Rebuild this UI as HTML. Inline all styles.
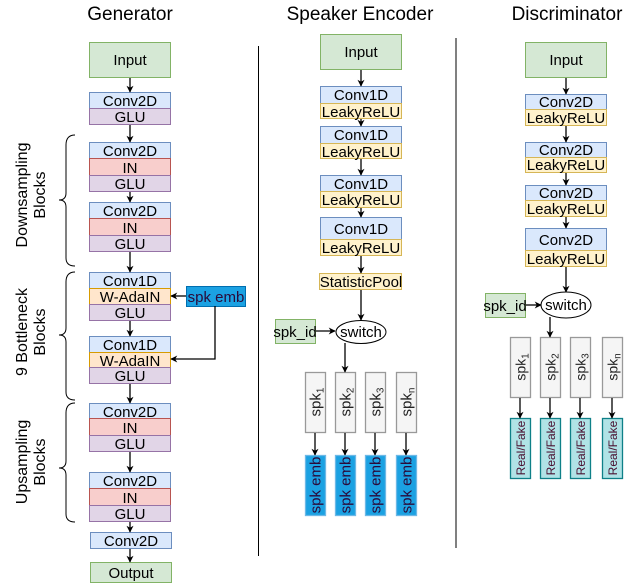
<!DOCTYPE html>
<html><head><meta charset="utf-8"><style>
html,body{margin:0;padding:0;background:#fff;}
svg{display:block;font-family:"Liberation Sans",Arial,sans-serif;}
</style></head><body>
<svg width="632" height="583" viewBox="0 0 632 583" xmlns="http://www.w3.org/2000/svg">
<defs>
<marker id="a" viewBox="0 0 10 10" refX="9" refY="5" markerWidth="7" markerHeight="7" orient="auto" markerUnits="userSpaceOnUse"><path d="M0,0 L10,5 L0,10 L3,5 z" fill="#000"/></marker>
</defs>
<g font-size="19" text-anchor="middle" fill="#000">
<text x="130" y="20">Generator</text>
<text x="360" y="20">Speaker Encoder</text>
<text x="567" y="20">Discriminator</text>
</g>
<line x1="258.5" y1="46" x2="258.5" y2="556" stroke="#000" stroke-width="1"/>
<line x1="456" y1="38" x2="456" y2="548" stroke="#000" stroke-width="1"/>

<g font-size="15" text-anchor="middle" stroke-width="1">
<!-- Generator -->
<rect x="89.5" y="42.5" width="81" height="35" fill="#d5e8d4" stroke="#82b366"/><text x="130" y="65">Input</text>
<rect x="89.5" y="92.5" width="81" height="16" fill="#dae8fc" stroke="#6c8ebf"/><text x="130" y="106">Conv2D</text>
<rect x="89.5" y="108.5" width="81" height="16" fill="#e1d5e7" stroke="#9673a6"/><text x="130" y="122">GLU</text>

<rect x="89.5" y="142.5" width="81" height="16" fill="#dae8fc" stroke="#6c8ebf"/><text x="130" y="156">Conv2D</text>
<rect x="89.5" y="158.5" width="81" height="17" fill="#f8cecc" stroke="#b85450"/><text x="130" y="173">IN</text>
<rect x="89.5" y="175.5" width="81" height="16" fill="#e1d5e7" stroke="#9673a6"/><text x="130" y="189">GLU</text>
<rect x="89.5" y="202.5" width="81" height="16" fill="#dae8fc" stroke="#6c8ebf"/><text x="130" y="216">Conv2D</text>
<rect x="89.5" y="218.5" width="81" height="17" fill="#f8cecc" stroke="#b85450"/><text x="130" y="233">IN</text>
<rect x="89.5" y="235.5" width="81" height="16" fill="#e1d5e7" stroke="#9673a6"/><text x="130" y="249">GLU</text>

<rect x="89.5" y="272.5" width="81" height="16" fill="#dae8fc" stroke="#6c8ebf"/><text x="130" y="286">Conv1D</text>
<rect x="89.5" y="288.5" width="81" height="16" fill="#ffe6cc" stroke="#d79b00"/><text x="130" y="302">W-AdaIN</text>
<rect x="89.5" y="304.5" width="81" height="16" fill="#e1d5e7" stroke="#9673a6"/><text x="130" y="318">GLU</text>
<rect x="89.5" y="336.5" width="81" height="16" fill="#dae8fc" stroke="#6c8ebf"/><text x="130" y="350">Conv1D</text>
<rect x="89.5" y="352.5" width="81" height="15" fill="#ffe6cc" stroke="#d79b00"/><text x="130" y="366">W-AdaIN</text>
<rect x="89.5" y="367.5" width="81" height="16" fill="#e1d5e7" stroke="#9673a6"/><text x="130" y="381">GLU</text>

<rect x="89.5" y="403.5" width="81" height="15" fill="#dae8fc" stroke="#6c8ebf"/><text x="130" y="417">Conv2D</text>
<rect x="89.5" y="418.5" width="81" height="17" fill="#f8cecc" stroke="#b85450"/><text x="130" y="433">IN</text>
<rect x="89.5" y="435.5" width="81" height="16" fill="#e1d5e7" stroke="#9673a6"/><text x="130" y="449">GLU</text>
<rect x="89.5" y="472.5" width="81" height="16" fill="#dae8fc" stroke="#6c8ebf"/><text x="130" y="486">Conv2D</text>
<rect x="89.5" y="488.5" width="81" height="17" fill="#f8cecc" stroke="#b85450"/><text x="130" y="503">IN</text>
<rect x="89.5" y="505.5" width="81" height="16" fill="#e1d5e7" stroke="#9673a6"/><text x="130" y="519">GLU</text>
<rect x="90.5" y="532.5" width="81" height="16" fill="#dae8fc" stroke="#6c8ebf"/><text x="131" y="546">Conv2D</text>
<rect x="90.5" y="562.5" width="81" height="20" fill="#d5e8d4" stroke="#82b366"/><text x="131" y="578">Output</text>

<rect x="186.5" y="286.5" width="59" height="20" fill="#1ba1e2" stroke="#006eaf"/><text x="216" y="302" fill="#2a0a3a">spk emb</text>
</g>
<g stroke="#000" stroke-width="1.3" fill="none">
<line x1="130" y1="78" x2="130" y2="92" marker-end="url(#a)"/>
<line x1="130" y1="125" x2="130" y2="142" marker-end="url(#a)"/>
<line x1="130" y1="192" x2="130" y2="202" marker-end="url(#a)"/>
<line x1="130" y1="252" x2="130" y2="272" marker-end="url(#a)"/>
<line x1="130" y1="321" x2="130" y2="336" marker-end="url(#a)"/>
<line x1="130" y1="384" x2="130" y2="403" marker-end="url(#a)"/>
<line x1="130" y1="452" x2="130" y2="472" marker-end="url(#a)"/>
<line x1="130" y1="522" x2="130" y2="532" marker-end="url(#a)"/>
<line x1="130" y1="549" x2="130" y2="562" marker-end="url(#a)"/>
<line x1="186" y1="296" x2="171" y2="296" marker-end="url(#a)"/>
<polyline points="215,306 215,359 171,359" marker-end="url(#a)"/>
<path d="M75,145 Q66,145 66,155 L66,203 Q66,210 59,210 Q66,210 66,217 L66,268 Q66,276 75,276" transform="translate(0,-10)" stroke-width="1"/>
<path d="M75,296 Q66,296 66,306 L66,352 Q66,359 59,359 Q66,359 66,366 L66,416 Q66,424 75,424" transform="translate(0,-24)" stroke-width="1"/>
<path d="M75,437 Q66,437 66,447 L66,495 Q66,502 59,502 Q66,502 66,509 L66,548 Q66,556 75,556" transform="translate(0,-34)" stroke-width="1"/>
</g>
<g font-size="16" text-anchor="middle">
<text transform="translate(27,195) rotate(-90)"><tspan x="0" y="0">Downsampling</tspan><tspan x="0" y="18">Blocks</tspan></text>
<text transform="translate(27,332) rotate(-90)"><tspan x="0" y="0">9 Bottleneck</tspan><tspan x="0" y="18">Blocks</tspan></text>
<text transform="translate(27,462) rotate(-90)"><tspan x="0" y="0">Upsampling</tspan><tspan x="0" y="18">Blocks</tspan></text>
</g>

<!-- Speaker Encoder -->
<g font-size="15" text-anchor="middle">
<rect x="320.5" y="34.5" width="81" height="35" fill="#d5e8d4" stroke="#82b366"/><text x="361" y="57">Input</text>
<rect x="320.5" y="86.5" width="81" height="17" fill="#dae8fc" stroke="#6c8ebf"/><text x="361" y="100">Conv1D</text>
<rect x="320.5" y="103.5" width="81" height="15" fill="#fff2cc" stroke="#d6b656"/><text x="361" y="117">LeakyReLU</text>
<rect x="320.5" y="126.5" width="81" height="17" fill="#dae8fc" stroke="#6c8ebf"/><text x="361" y="140">Conv1D</text>
<rect x="320.5" y="143.5" width="81" height="15" fill="#fff2cc" stroke="#d6b656"/><text x="361" y="157">LeakyReLU</text>
<rect x="320.5" y="175.5" width="81" height="16" fill="#dae8fc" stroke="#6c8ebf"/><text x="361" y="189">Conv1D</text>
<rect x="320.5" y="191.5" width="81" height="16" fill="#fff2cc" stroke="#d6b656"/><text x="361" y="205">LeakyReLU</text>
<rect x="320.5" y="217.5" width="81" height="22" fill="#dae8fc" stroke="#6c8ebf"/><text x="361" y="234">Conv1D</text>
<rect x="320.5" y="239.5" width="81" height="16" fill="#fff2cc" stroke="#d6b656"/><text x="361" y="253">LeakyReLU</text>
<rect x="319.5" y="273.5" width="82" height="16" fill="#fff2cc" stroke="#d6b656"/><text x="361" y="287">StatisticPool</text>
<rect x="275.5" y="319.5" width="40" height="24" fill="#d5e8d4" stroke="#82b366"/><text x="295" y="337">spk_id</text>
<ellipse cx="361" cy="332" rx="25" ry="11.5" fill="#fff" stroke="#000"/><text x="361" y="337">switch</text>

<rect x="485.5" y="293.5" width="40" height="24" fill="#d5e8d4" stroke="#82b366"/><text x="505" y="311">spk_id</text>
<ellipse cx="566" cy="305" rx="25" ry="13" fill="#fff" stroke="#000"/><text x="566" y="310">switch</text>

<rect x="525.5" y="42.5" width="81" height="35" fill="#d5e8d4" stroke="#82b366"/><text x="566" y="65">Input</text>
<rect x="525.5" y="94.5" width="81" height="15" fill="#dae8fc" stroke="#6c8ebf"/><text x="566" y="107">Conv2D</text>
<rect x="525.5" y="109.5" width="81" height="16" fill="#fff2cc" stroke="#d6b656"/><text x="566" y="123">LeakyReLU</text>
<rect x="525.5" y="142.5" width="81" height="15" fill="#dae8fc" stroke="#6c8ebf"/><text x="566" y="155">Conv2D</text>
<rect x="525.5" y="157.5" width="81" height="15" fill="#fff2cc" stroke="#d6b656"/><text x="566" y="170">LeakyReLU</text>
<rect x="525.5" y="185.5" width="81" height="15" fill="#dae8fc" stroke="#6c8ebf"/><text x="566" y="198">Conv2D</text>
<rect x="525.5" y="200.5" width="81" height="16" fill="#fff2cc" stroke="#d6b656"/><text x="566" y="214">LeakyReLU</text>
<rect x="525.5" y="228.5" width="81" height="22" fill="#dae8fc" stroke="#6c8ebf"/><text x="566" y="245">Conv2D</text>
<rect x="525.5" y="250.5" width="81" height="16" fill="#fff2cc" stroke="#d6b656"/><text x="566" y="264">LeakyReLU</text>
</g>
<g fill="#f5f5f5" stroke="#999" stroke-width="1.3">
<rect x="305.5" y="372.5" width="20" height="60"/><rect x="335.5" y="372.5" width="20" height="60"/>
<rect x="365.5" y="372.5" width="20" height="60"/><rect x="396.5" y="372.5" width="20" height="60"/>
<rect x="510.5" y="337.5" width="20" height="60"/><rect x="540.5" y="337.5" width="20" height="60"/>
<rect x="570.5" y="337.5" width="20" height="60"/><rect x="602.5" y="337.5" width="20" height="60"/>
</g>
<g fill="#1ba1e2" stroke="#6cb8e6" stroke-width="1.3">
<rect x="305.5" y="455.5" width="20" height="60"/><rect x="335.5" y="455.5" width="20" height="60"/>
<rect x="365.5" y="455.5" width="20" height="60"/><rect x="396.5" y="455.5" width="20" height="60"/>
</g>
<g fill="#b0e3e6" stroke="#0e8088" stroke-width="1.3">
<rect x="510.5" y="418.5" width="20" height="60"/><rect x="540.5" y="418.5" width="20" height="60"/>
<rect x="570.5" y="418.5" width="20" height="60"/><rect x="602.5" y="418.5" width="20" height="60"/>
</g>
<g font-size="15" text-anchor="middle" fill="#222">
<text transform="translate(320.5,402) rotate(-90)">spk<tspan font-size="10" dy="3">1</tspan></text>
<text transform="translate(350.5,402) rotate(-90)">spk<tspan font-size="10" dy="3">2</tspan></text>
<text transform="translate(380.5,402) rotate(-90)">spk<tspan font-size="10" dy="3">3</tspan></text>
<text transform="translate(411.5,402) rotate(-90)">spk<tspan font-size="10" dy="3">n</tspan></text>
<text transform="translate(525.5,367) rotate(-90)" font-size="14">spk<tspan font-size="10" dy="3">1</tspan></text>
<text transform="translate(555.5,367) rotate(-90)" font-size="14">spk<tspan font-size="10" dy="3">2</tspan></text>
<text transform="translate(585.5,367) rotate(-90)" font-size="14">spk<tspan font-size="10" dy="3">3</tspan></text>
<text transform="translate(617.5,367) rotate(-90)" font-size="14">spk<tspan font-size="10" dy="3">n</tspan></text>
</g>
<g font-size="15" text-anchor="middle" fill="#2a0a3a">
<text transform="translate(320.5,485) rotate(-90)">spk emb</text>
<text transform="translate(350.5,485) rotate(-90)">spk emb</text>
<text transform="translate(380.5,485) rotate(-90)">spk emb</text>
<text transform="translate(411.5,485) rotate(-90)">spk emb</text>
</g>
<g font-size="12" text-anchor="middle" fill="#4a1030">
<text transform="translate(525,448) rotate(-90)">Real/Fake</text>
<text transform="translate(555,448) rotate(-90)">Real/Fake</text>
<text transform="translate(585,448) rotate(-90)">Real/Fake</text>
<text transform="translate(617,448) rotate(-90)">Real/Fake</text>
</g>
<g stroke="#000" stroke-width="1.3" fill="none">
<line x1="361" y1="70" x2="361" y2="86" marker-end="url(#a)"/>
<line x1="361" y1="119" x2="361" y2="126" marker-end="url(#a)"/>
<line x1="361" y1="159" x2="361" y2="175" marker-end="url(#a)"/>
<line x1="361" y1="208" x2="361" y2="217" marker-end="url(#a)"/>
<line x1="361" y1="256" x2="361" y2="273" marker-end="url(#a)"/>
<line x1="361" y1="290" x2="361" y2="320" marker-end="url(#a)"/>
<line x1="316" y1="331" x2="335" y2="331" marker-end="url(#a)"/>
<polyline points="345,343 345,372" marker-end="url(#a)"/>
<line x1="315" y1="433" x2="315" y2="455" marker-end="url(#a)"/>
<line x1="345" y1="433" x2="345" y2="455" marker-end="url(#a)"/>
<line x1="375" y1="433" x2="375" y2="455" marker-end="url(#a)"/>
<line x1="406" y1="433" x2="406" y2="455" marker-end="url(#a)"/>
<line x1="566" y1="78" x2="566" y2="94" marker-end="url(#a)"/>
<line x1="566" y1="126" x2="566" y2="142" marker-end="url(#a)"/>
<line x1="566" y1="173" x2="566" y2="185" marker-end="url(#a)"/>
<line x1="566" y1="217" x2="566" y2="228" marker-end="url(#a)"/>
<line x1="566" y1="267" x2="566" y2="292" marker-end="url(#a)"/>
<line x1="526" y1="305" x2="541" y2="305" marker-end="url(#a)"/>
<polyline points="550,317 550,337" marker-end="url(#a)"/>
<line x1="520" y1="398" x2="520" y2="418" marker-end="url(#a)"/>
<line x1="550" y1="398" x2="550" y2="418" marker-end="url(#a)"/>
<line x1="580" y1="398" x2="580" y2="418" marker-end="url(#a)"/>
<line x1="612" y1="398" x2="612" y2="418" marker-end="url(#a)"/>
</g>
</svg>
</body></html>
